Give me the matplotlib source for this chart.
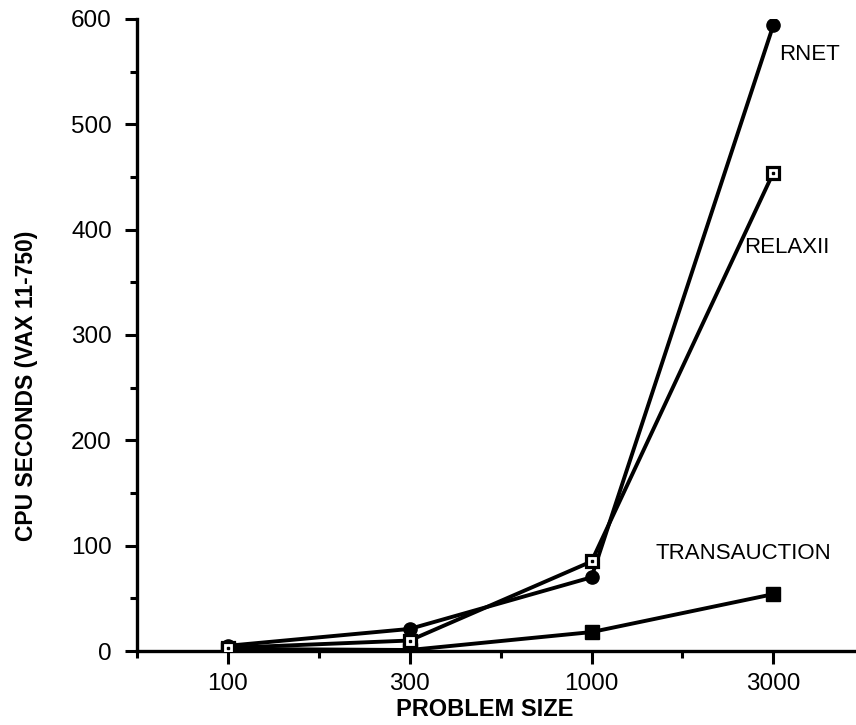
import matplotlib
matplotlib.use("Agg")
import matplotlib.pyplot as plt
from matplotlib.ticker import MultipleLocator

plt.rcParams['font.family'] = ['Liberation Sans', 'DejaVu Sans']

sizes = ["100", "300", "1000", "3000"]
rnet = [5, 21, 70, 594]
relaxii = [3, 10, 85, 454]
transauction = [2, 1, 18, 54]

fig = plt.figure(figsize=(8.56, 7.25), dpi=100)
ax = fig.add_axes([0.160, 0.102, 0.839, 0.872])

x = list(range(len(sizes)))
lw = 2.8
ax.plot(x, transauction, color='black', lw=lw, marker='s', markersize=10,
        markerfacecolor='black', zorder=3)
ax.plot(x, rnet, color='black', lw=lw, marker='o', markersize=9.5,
        markerfacecolor='black', zorder=4)
ax.plot(x, relaxii, color='black', lw=lw, marker='s', markersize=9,
        markerfacecolor='white', markeredgecolor='black', markeredgewidth=2.3, zorder=5)
ax.plot(x, relaxii, linestyle='none', marker='s', markersize=2,
        color='black', zorder=6)

ax.text(3.03, 566, "RNET", fontsize=16, ha='left', va='center')
ax.text(2.84, 383, "RELAXII", fontsize=16, ha='left', va='center')
ax.text(2.35, 93, "TRANSAUCTION", fontsize=16, ha='left', va='center')

ax.set_xlim(-0.5, 3.45)
ax.set_ylim(0, 600)
ax.set_xticks(x)
ax.set_xticklabels(sizes)
ax.set_xticks([-0.5, 0.5, 1.5, 2.5], minor=True)
ax.yaxis.set_major_locator(MultipleLocator(100))
ax.yaxis.set_minor_locator(MultipleLocator(50))

ax.spines['top'].set_visible(False)
ax.spines['right'].set_visible(False)
ax.spines['left'].set_linewidth(2.4)
ax.spines['bottom'].set_linewidth(2.4)
ax.tick_params(axis='both', which='major', direction='out', length=9, width=2.2,
               labelsize=17.5)
ax.tick_params(axis='y', which='major', pad=9)
ax.tick_params(axis='x', which='major', pad=7)
ax.tick_params(axis='both', which='minor', direction='out', length=5, width=2.2)

ax.set_xlabel("PROBLEM SIZE", fontsize=17, fontweight='bold')
ax.xaxis.set_label_coords(0.484, -0.074)
ax.set_ylabel("CPU SECONDS (VAX 11-750)", fontsize=16.5, fontweight='bold')
ax.yaxis.set_label_coords(-0.138, 0.42)

plt.savefig("out.png", dpi=100)
plt.close()
